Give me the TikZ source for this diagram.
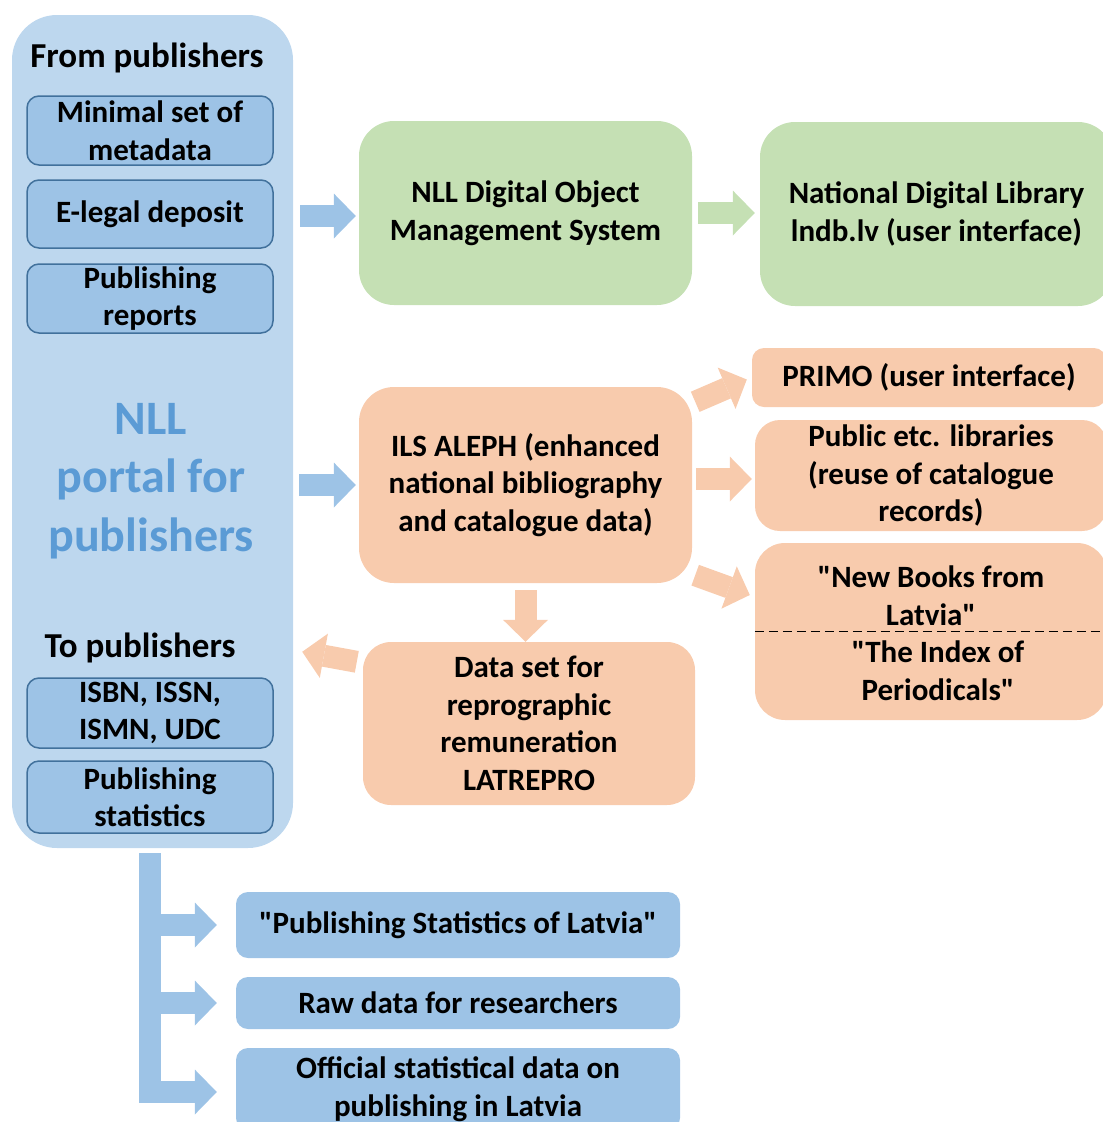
\documentclass[tikz,border=0pt]{standalone}
\usepackage{fontspec}
\newfontfamily{\labelfont}{Carlito}
\usetikzlibrary{arrows.meta,calc}
\definecolor{panelblue}{RGB}{189,215,238}
\definecolor{boxblue}{RGB}{157,195,230}
\definecolor{edgeblue}{RGB}{65,113,156}
\definecolor{titleblue}{RGB}{91,155,213}
\definecolor{boxgreen}{RGB}{197,224,180}
\definecolor{boxorange}{RGB}{248,203,173}
\newcommand{\bodysize}{\fontsize{31}{37.5}\selectfont}
\newcommand{\headsize}{\fontsize{35}{42}\selectfont}
\newcommand{\portalsize}{\fontsize{48}{58.5}\selectfont}

\begin{document}
\begin{tikzpicture}[x=1pt,y=-1pt,
    every node/.style={font=\labelfont\bfseries\bodysize, align=center, inner sep=0pt},
    pubbox/.style={draw=edgeblue, line width=1.5pt, fill=boxblue, rounded corners=12pt, minimum width=246pt},
    outbox/.style={fill=boxblue, rounded corners=12pt, minimum width=444pt},
    greenbox/.style={fill=boxgreen, rounded corners=35pt, minimum height=184pt},
    orangebox/.style={fill=boxorange},
    blockarrow/.style={line width=22pt, -{Triangle[length=22pt,width=45pt,line width=0pt]}}]
    \useasboundingbox (0,0) rectangle (1103,1122);
    \clip (0,0) rectangle (1103,1122);

    % portal for publishers
    \node[fill=panelblue, rounded corners=45pt, minimum width=281pt, minimum height=833pt] (panel) at (152.5,431.5) {};
    \node[font=\labelfont\bfseries\headsize] (from) at (147,58) {From publishers};
    \node[pubbox, minimum height=69pt] (meta) at (150,130.5) {Minimal set of\\metadata};
    \node[pubbox, minimum height=68pt] (edep) at (150,214) {E-legal deposit};
    \node[pubbox, minimum height=69pt] (reports) at (150,298.5) {Publishing\\reports};
    \node[font=\labelfont\bfseries\portalsize, text=titleblue] (portal) at (151,481) {NLL\\portal for\\publishers};
    \node[font=\labelfont\bfseries\headsize] (to) at (140,648) {To publishers};
    \node[pubbox, minimum height=70pt] (isbn) at (150,713) {ISBN, ISSN,\\ISMN, UDC};
    \node[pubbox, minimum height=72pt] (stats) at (150,797) {Publishing\\statistics};

    % digital library
    \node[greenbox, minimum width=333pt] (doms) at (525.5,213) {NLL Digital Object\\Management System};
    \node[greenbox, minimum width=353pt] (ndl) at (936.5,214) {National Digital Library\\lndb.lv (user interface)};

    % catalogue
    \node[orangebox, rounded corners=35pt, minimum width=333pt, minimum height=196pt] (aleph) at (525.5,485) {ILS ALEPH (enhanced\\national bibliography\\and catalogue data)};
    \node[orangebox, rounded corners=12pt, minimum width=354pt, minimum height=59pt] (primo) at (929,377.5) {PRIMO (user interface)};
    \node[orangebox, rounded corners=25pt, minimum width=352pt, minimum height=111pt] (public) at (931,475.5) {Public etc. libraries\\(reuse of catalogue\\records)};
    \node[orangebox, rounded corners=30pt, minimum width=352pt, minimum height=177pt] (newbooks) at (931,631.5) {};
    \node (nbl) at (931,595.5) {"New Books from\\Latvia"};
    \node (index) at (938,670.5) {"The Index of\\Periodicals"};
    \draw[line width=1.8pt, dash pattern=on 9pt off 5pt] (newbooks.west) -- (newbooks.east);
    \node[orangebox, rounded corners=28pt, minimum width=332pt, minimum height=163pt] (latrepro) at (529,723.5) {Data set for\\reprographic\\remuneration\\LATREPRO};

    % statistics
    \node[outbox, minimum height=66pt] (pubstat) at (458,925) {"Publishing Statistics of Latvia"};
    \node[outbox, minimum height=52pt] (rawdata) at (458,1003) {Raw data for researchers};
    \node[outbox, minimum height=82pt] (official) at (458,1089) {Official statistical data on\\publishing in Latvia};

    % arrows
    \draw[blockarrow, boxblue, shorten <=7pt, shorten >=3pt] ($(doms.west -| panel.east)+(0,3)$) -- ($(doms.west)+(0,3)$);
    \draw[blockarrow, boxgreen, shorten <=6pt, shorten >=5pt] (doms.east) -- (doms.east -| ndl.west);
    \draw[blockarrow, boxblue, shorten <=6pt, shorten >=3pt] (aleph.west -| panel.east) -- (aleph.west);
    \draw[blockarrow, boxorange] ($(aleph.north east)+(3,15)$) -- ($(primo.west)+(-5,2)$);
    \draw[blockarrow, boxorange] ($(aleph.east)+(4,-6)$) -- ($(public.west)+(-3,3.5)$);
    \draw[blockarrow, boxorange] ($(aleph.south east)+(3,-8)$) -- ($(newbooks.west)+(-5,-36.5)$);
    \draw[blockarrow, boxorange, shorten <=7pt] (aleph.south) -- (aleph.south |- latrepro.north);
    \draw[blockarrow, boxorange] ($(latrepro.north west)+(-6,20)$) -- ($(panel.east |- latrepro.north)+(9,10)$);
    \coordinate (trunk) at (150,853);
    \draw[blockarrow, boxblue, shorten >=19pt] (trunk) |- (pubstat.west);
    \draw[blockarrow, boxblue, shorten >=19pt] (trunk) |- (rawdata.west);
    \draw[blockarrow, boxblue, shorten >=19pt] (trunk) |- ($(official.west)+(0,3)$);
\end{tikzpicture}
\end{document}
